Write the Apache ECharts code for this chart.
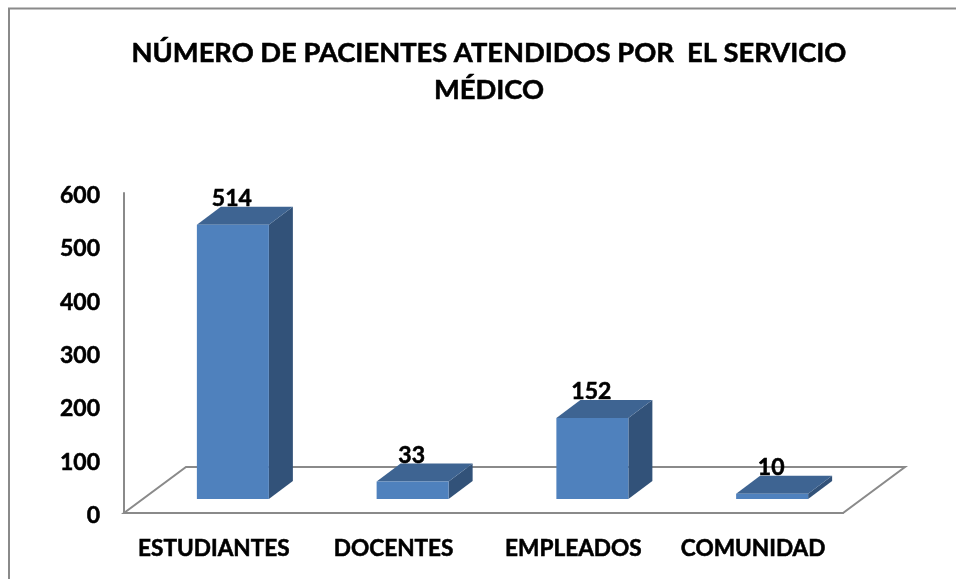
<!DOCTYPE html>
<html>
<head>
<meta charset="utf-8">
<style>html,body{margin:0;padding:0;background:#fff}#c{width:956px;height:579px}</style>
<script src="https://cdn.jsdelivr.net/npm/echarts@6/dist/echarts.min.js"></script>
</head>
<body>
<div id="c"></div>
<script>
const titleLines = ["NÚMERO DE PACIENTES ATENDIDOS POR  EL SERVICIO", "MÉDICO"];
const categories = ["ESTUDIANTES", "DOCENTES", "EMPLEADOS", "COMUNIDAD"];
const pacientes = [514, 33, 152, 10];
const yTicks = { min: 0, max: 600, interval: 100 };

const FONT = "Lato, Carlito, sans-serif";
const FRONT = "#4F81BD", TOP = "#3E6492", SIDE = "#325279", AXIS = "#8A8A8A";
const DX = 24, DY = 18, BAR_W = 72, FLOOR_DX = 62, FLOOR_DY = 46, BAR_SHIFT_X = 19, BAR_SHIFT_Y = 14;
const HEAVY = { textBorderColor: "#000", textBorderWidth: 0.55 };

const chart = echarts.init(document.getElementById("c"), null, { renderer: "canvas" });

function renderFloor(params, api) {
  const r = params.coordSys;
  const x0 = r.x, x1 = r.x + r.width, y = r.y + r.height;
  return {
    type: "polygon",
    silent: true,
    shape: { points: [[x0, y], [x1, y], [x1 + FLOOR_DX, y - FLOOR_DY], [x0 + FLOOR_DX, y - FLOOR_DY]] },
    style: { fill: "#fff", stroke: AXIS, lineWidth: 2 }
  };
}

function renderBar(params, api) {
  const p = api.coord([api.value(0), api.value(1)]);
  const base = api.coord([api.value(0), 0]);
  const l = p[0] + BAR_SHIFT_X - BAR_W / 2, r = l + BAR_W;
  const t = p[1] - BAR_SHIFT_Y, b = base[1] - BAR_SHIFT_Y;
  return {
    type: "group",
    children: [
      { type: "polygon", shape: { points: [[r, t], [r + DX, t - DY], [r + DX, b - DY], [r, b]] }, style: { fill: SIDE } },
      { type: "polygon", shape: { points: [[l, t], [r, t], [r + DX, t - DY], [l + DX, t - DY]] }, style: { fill: TOP } },
      { type: "rect", shape: { x: l, y: t, width: BAR_W, height: b - t }, style: { fill: FRONT } },
      { type: "text", z2: 10, style: {
          text: String(api.value(1)), x: l + BAR_W / 2 - 1, y: t - 26,
          align: "center", verticalAlign: "middle",
          font: "bold 23px " + FONT, fill: "#000",
          stroke: "#000", lineWidth: 0.55
      } }
    ]
  };
}

chart.setOption({
  animation: false,
  backgroundColor: "#fff",
  title: {
    text: titleLines.join("\n"),
    left: 484, top: 29.5, textAlign: "center",
    textStyle: Object.assign({ fontFamily: FONT, fontWeight: "bold", fontSize: 27.3, lineHeight: 37, color: "#000" }, HEAVY)
  },
  grid: { left: 124, right: 113, top: 193, bottom: 66 },
  xAxis: {
    type: "category", data: categories,
    axisLine: { show: true, lineStyle: { color: AXIS, width: 2 } },
    axisTick: { show: false },
    axisLabel: Object.assign({ color: "#000", fontFamily: FONT, fontWeight: "bold", fontSize: 22.6, margin: 24, interval: 0 }, HEAVY)
  },
  yAxis: {
    type: "value", min: yTicks.min, max: yTicks.max, interval: yTicks.interval,
    axisLine: { show: true, lineStyle: { color: AXIS, width: 2 } },
    axisTick: { show: false },
    splitLine: { show: false },
    axisLabel: {
      margin: 24,
      formatter: "{n|{value}}",
      rich: { n: Object.assign({ color: "#000", fontFamily: FONT, fontWeight: "bold", fontSize: 23, padding: [5, 0, 0, 0] }, HEAVY) }
    }
  },
  series: [
    { type: "custom", renderItem: renderFloor, data: [0], z: 1, silent: true, clip: false, encode: { x: 0 } },
    { type: "custom", renderItem: renderBar, z: 5, clip: false,
      data: categories.map((c, i) => [i, pacientes[i]]), encode: { x: 0, y: 1 } }
  ],
  graphic: [
    { type: "polyline", silent: true, shape: { points: [[9, 579], [9, 8.5], [956, 8.5]] },
      style: { fill: null, stroke: AXIS, lineWidth: 2 } }
  ]
});
</script>
</body>
</html>
